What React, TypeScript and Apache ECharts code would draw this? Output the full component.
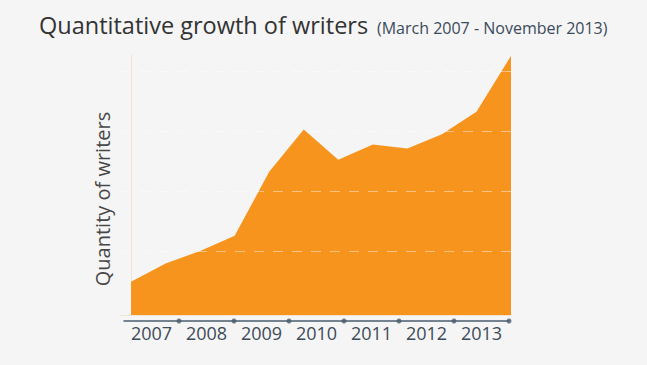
import React, { useEffect, useRef } from "react";
import * as echarts from "echarts";

const periods = ["Mar 2007", "Oct 2007", "May 2008", "Dec 2008", "Jul 2009", "Feb 2010", "Oct 2010", "May 2011", "Dec 2011", "Jul 2012", "Feb 2013", "Nov 2013"];
const writers = [83, 129, 160, 198, 358, 464, 388, 426, 416, 452, 508, 648];
const years = ["2007", "2008", "2009", "2010", "2011", "2012", "2013"];
const yearBoundaries = [1, 2, 3, 4, 5, 6, 7];
const gridValues = [160, 310, 460, 610];

export default function App() {
  const ref = useRef<HTMLDivElement>(null);
  useEffect(() => {
    const chart = echarts.init(ref.current!, null, { renderer: "svg" });
    const font = "'Open Sans', sans-serif";
    chart.setOption({
      animation: false,
      backgroundColor: "#f5f5f5",
      title: [
        {
          text: "Quantitative growth of writers",
          left: 34,
          top: 8,
          padding: 5,
          textStyle: { fontFamily: font, fontSize: 23.5, fontWeight: "normal", color: "#333333" },
        },
        {
          text: "(March 2007 - November 2013)",
          left: 372,
          top: 15,
          padding: 5,
          textStyle: { fontFamily: font, fontSize: 16, fontWeight: "normal", color: "#3b4a5c" },
        },
      ],
      grid: [
        { left: 121, right: 136, top: 55, bottom: 50 },
        { left: 124, right: 138, top: 55, bottom: 44 },
      ],
      xAxis: [
        {
          gridIndex: 0,
          type: "value",
          min: -0.29,
          max: 11,
          axisLine: { show: true, onZero: false, lineStyle: { color: "#f1e4d2", width: 1 } },
          axisTick: { show: false },
          axisLabel: { show: false },
          splitLine: { show: false },
        },
        {
          gridIndex: 1,
          type: "category",
          data: years,
          boundaryGap: true,
          axisLine: { show: true, lineStyle: { color: "#4b5c6d", width: 1.5 } },
          axisTick: { show: false },
          axisLabel: { fontFamily: font, fontSize: 18, color: "#3e4b59", margin: 3 },
          splitLine: { show: false },
        },
        {
          gridIndex: 1,
          type: "value",
          min: 0,
          max: 7,
          show: false,
          position: "top",
        },
      ],
      yAxis: [
        {
          gridIndex: 0,
          type: "value",
          min: 0,
          max: 650,
          name: "Quantity of writers",
          nameLocation: "middle",
          nameRotate: 90,
          nameGap: 9,
          nameTextStyle: { fontFamily: font, fontSize: 20, color: "#474747", padding: [0, 28, 0, 0] },
          axisLine: { show: true, lineStyle: { color: "#f1e4d2", width: 1 } },
          axisTick: { show: false },
          axisLabel: { show: false },
          splitLine: { show: false },
        },
        { gridIndex: 1, type: "value", min: 0, max: 1, show: false },
      ],
      series: [
        {
          type: "line",
          xAxisIndex: 0,
          yAxisIndex: 0,
          data: writers.map((v, i) => [i, v]),
          symbol: "none",
          lineStyle: { width: 0, color: "#f7941e" },
          areaStyle: { color: "#f7941e", opacity: 1 },
          markLine: {
            silent: true,
            symbol: "none",
            label: { show: false },
            lineStyle: { color: "rgba(255,255,255,0.45)", type: [10, 9], width: 1 },
            data: gridValues.map((v) => ({ yAxis: v })),
          },
        },
        {
          type: "scatter",
          xAxisIndex: 2,
          yAxisIndex: 1,
          clip: false,
          symbol: "circle",
          symbolSize: 5,
          itemStyle: { color: "#4b5c6d" },
          data: yearBoundaries.map((b) => [b, 0]),
        },
      ],
    });
    return () => chart.dispose();
  }, []);
  return (
    <div
      ref={ref}
      data-periods={periods.length}
      style={{ position: "absolute", left: 0, top: 0, width: 647, height: 365 }}
    />
  );
}
